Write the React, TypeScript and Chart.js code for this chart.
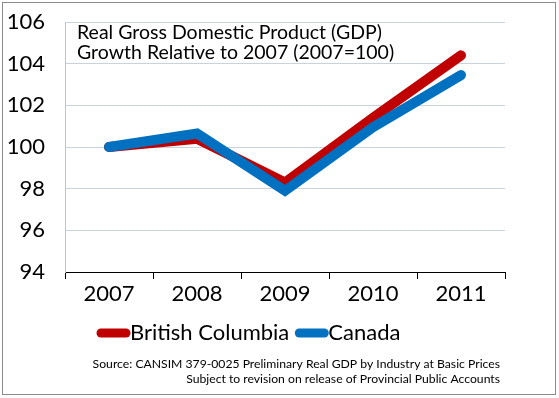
import React, { useEffect, useRef } from "react";
import { Chart, registerables } from "chart.js";

Chart.register(...registerables);

const years = ["2007", "2008", "2009", "2010", "2011"];
const bcValues = [100, 100.4, 98.3, 101.4, 104.4];
const canadaValues = [100, 100.65, 97.9, 100.95, 103.45];
const seriesNames = ["British Columbia", "Canada"];
const seriesColors = ["#C00000", "#0070C0"];
const titleLines = ["Real Gross Domestic Product (GDP)", "Growth Relative to 2007 (2007=100)"];
const sourceLines = [
  "Source: CANSIM 379-0025 Preliminary Real GDP by Industry at Basic Prices",
  "Subject to revision on release of Provincial Public Accounts",
];
const yMin = 94;
const yMax = 106;
const yStep = 2;

const FONT = "Lato, 'Open Sans', sans-serif";

const decor = {
  id: "decor",
  afterDraw(chart: any) {
    const ctx = chart.ctx as CanvasRenderingContext2D;
    ctx.save();
    // border
    ctx.strokeStyle = "#8a8a8a";
    ctx.lineWidth = 1;
    ctx.strokeRect(2.5, 2.5, 553, 392);
    // title
    ctx.fillStyle = "#000";
    ctx.font = `19.5px ${FONT}`;
    ctx.textBaseline = "middle";
    ctx.textAlign = "left";
    ctx.fillText(titleLines[0], 77, 33);
    ctx.fillText(titleLines[1], 77, 53);
    // legend
    ctx.font = `22px ${FONT}`;
    let x = 97;
    const ly = 333;
    chart.data.datasets
      .slice()
      .sort((a: any, b: any) => a.legendIndex - b.legendIndex)
      .forEach((ds: any) => {
        ctx.strokeStyle = ds.borderColor;
        ctx.lineWidth = 9;
        ctx.lineCap = "round";
        ctx.beginPath();
        ctx.moveTo(x + 4, ly);
        ctx.lineTo(x + 29, ly);
        ctx.stroke();
        ctx.fillStyle = "#000";
        ctx.fillText(ds.label, x + 33, ly);
        x += 33 + ctx.measureText(ds.label).width + 6;
      });
    // source
    ctx.font = `12.2px ${FONT}`;
    ctx.textAlign = "right";
    ctx.fillText(sourceLines[0], 500, 364);
    ctx.fillText(sourceLines[1], 500, 379);
    ctx.restore();
  },
};

export default function App() {
  const ref = useRef<HTMLCanvasElement>(null);
  useEffect(() => {
    document.body.style.margin = "0";
    const chart = new Chart(ref.current!, {
      type: "line",
      data: {
        labels: years,
        datasets: [
          {
            label: seriesNames[0],
            data: bcValues,
            borderColor: seriesColors[0],
            backgroundColor: seriesColors[0],
            borderWidth: 10,
            pointRadius: 0,
            borderCapStyle: "round",
            borderJoinStyle: "miter",
            order: 1,
            legendIndex: 0,
          } as any,
          {
            label: seriesNames[1],
            data: canadaValues,
            borderColor: seriesColors[1],
            backgroundColor: seriesColors[1],
            borderWidth: 10,
            pointRadius: 0,
            borderCapStyle: "round",
            borderJoinStyle: "miter",
            order: 0,
            legendIndex: 1,
          } as any,
        ],
      },
      options: {
        animation: false,
        responsive: false,
        devicePixelRatio: 1,
        layout: { padding: { left: 0, top: 22, right: 54, bottom: 0 } },
        plugins: { legend: { display: false }, tooltip: { enabled: false }, title: { display: false } },
        scales: {
          x: {
            offset: true,
            grid: {
              offset: true,
              drawOnChartArea: false,
              drawTicks: true,
              tickLength: 7,
              color: "#000",
            },
            border: { color: "#000", width: 1 },
            ticks: { color: "#000", font: { size: 22, family: FONT }, padding: 2 },
            afterFit(scale: any) {
              scale.height = 398 - 272;
              scale.paddingLeft = 0;
              scale.paddingRight = 0;
            },
          },
          y: {
            min: yMin,
            max: yMax,
            ticks: { stepSize: yStep, color: "#000", font: { size: 22, family: FONT }, padding: 20 },
            grid: { color: "#C8D3DE", drawTicks: false },
            border: { color: "#B8C7D6", width: 1 },
            afterFit(scale: any) {
              scale.width = 65;
              scale.paddingTop = 0;
              scale.paddingBottom = 0;
            },
          },
        },
      },
      plugins: [decor],
    });
    return () => chart.destroy();
  }, []);
  return <canvas ref={ref} width={559} height={398} style={{ display: "block" }} />;
}
